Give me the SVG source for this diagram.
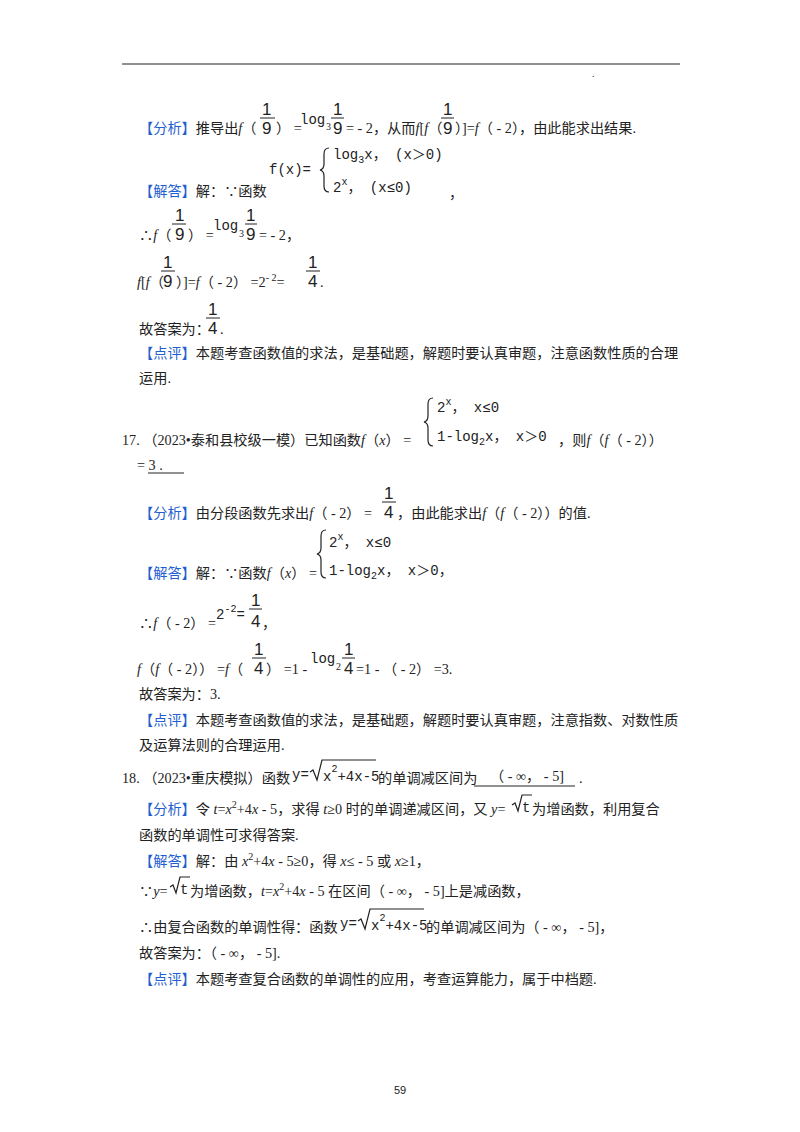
<svg xmlns="http://www.w3.org/2000/svg" width="800" height="1132" viewBox="0 0 800 1132">
<style>
text{font-family:"Liberation Serif","Noto Sans CJK SC",serif;font-size:14.2px;fill:#222}
.b{fill:#1f5fd0}
.i{font-style:italic}
.m{font-family:"Liberation Mono","Noto Sans CJK SC",monospace;font-size:14px}
.s{font-size:10px}
.f{font-size:17px;font-family:"Liberation Sans",sans-serif}
line{stroke:#222;stroke-width:1}
path{fill:none;stroke:#222;stroke-width:1.2}
</style>
<rect width="800" height="1132" fill="#fff"/>
<line x1="122" y1="64" x2="680" y2="64"/>
<text x="592" y="77" class="s">.</text>

<text x="139" y="133"><tspan class="b">【分析】</tspan>推导出<tspan class="i">f</tspan>（</text>
<text x="262" y="115" class="f">1</text><line x1="260" y1="118" x2="275" y2="118"/><text x="262" y="134" class="f">9</text>
<text x="276" y="133">） =</text>
<text x="300" y="124" class="m">log</text><text x="326" y="130" class="s">3</text>
<text x="333" y="115" class="f">1</text><line x1="331" y1="118" x2="344" y2="118"/><text x="333" y="134" class="f">9</text>
<text x="346" y="133">= - 2，从而<tspan class="i">f</tspan>[<tspan class="i">f</tspan>（</text>
<text x="443" y="115" class="f">1</text><line x1="441" y1="118" x2="454" y2="118"/><text x="443" y="134" class="f">9</text>
<text x="455" y="133">）]=<tspan class="i">f</tspan>（ - 2），由此能求出结果.</text>

<text x="269" y="174" class="m">f(x)=</text>
<path d="M329,148 q-5,0 -5,6 v10 q0,5 -4,6 q4,1 4,6 v10 q0,6 5,6"/>
<text x="333" y="159" class="m">log<tspan class="s" dy="4">3</tspan><tspan dy="-4">x， (x＞0)</tspan></text>
<text x="333" y="192" class="m">2<tspan class="s" dy="-7">x</tspan><tspan dy="7">， (x≤0)</tspan></text>
<text x="139" y="196"><tspan class="b">【解答】</tspan>解：∵函数</text>
<text x="449" y="198">，</text>

<text x="139" y="240">∴<tspan class="i">f</tspan>（</text>
<text x="175" y="221" class="f">1</text><line x1="172" y1="224" x2="186" y2="224"/><text x="175" y="240" class="f">9</text>
<text x="188" y="240">） =</text>
<text x="213" y="230" class="m">log</text><text x="239" y="237" class="s">3</text>
<text x="246" y="221" class="f">1</text><line x1="245" y1="224" x2="257" y2="224"/><text x="246" y="240" class="f">9</text>
<text x="259" y="240">= - 2，</text>

<text x="137" y="287"><tspan class="i">f</tspan>[<tspan class="i">f</tspan>（</text>
<text x="163" y="268" class="f">1</text><line x1="161" y1="271" x2="175" y2="271"/><text x="163" y="287" class="f">9</text>
<text x="176" y="287">）]=<tspan class="i">f</tspan>（ - 2） =2<tspan class="s" dy="-6">- 2</tspan><tspan dy="6">=</tspan></text>
<text x="308" y="268" class="f">1</text><line x1="306" y1="271" x2="320" y2="271"/><text x="308" y="287" class="f">4</text>
<text x="320" y="287">.</text>

<text x="139" y="334">故答案为：</text>
<text x="208" y="315" class="f">1</text><line x1="206" y1="318" x2="220" y2="318"/><text x="208" y="334" class="f">4</text>
<text x="220" y="334">.</text>

<text x="139" y="358"><tspan class="b">【点评】</tspan>本题考查函数值的求法，是基础题，解题时要认真审题，注意函数性质的合理</text>
<text x="139" y="383">运用.</text>

<text x="122" y="445">17. （2023•泰和县校级一模）已知函数<tspan class="i">f</tspan>（<tspan class="i">x</tspan>） =</text>
<path d="M433,398 q-5,0 -5,6 v12 q0,5 -4,6 q4,1 4,6 v12 q0,6 5,6"/>
<text x="437" y="412" class="m">2<tspan class="s" dy="-7">x</tspan><tspan dy="7">， x≤0</tspan></text>
<text x="437" y="441" class="m">1-log<tspan class="s" dy="4">2</tspan><tspan dy="-4">x， x＞0</tspan></text>
<text x="558" y="445">，则<tspan class="i">f</tspan>（<tspan class="i">f</tspan>（ - 2））</text>
<text x="137" y="470">= 3 .</text>
<line x1="148" y1="473" x2="184" y2="473"/>

<text x="139" y="518"><tspan class="b">【分析】</tspan>由分段函数先求出<tspan class="i">f</tspan>（ - 2） =</text>
<text x="384" y="499" class="f">1</text><line x1="382" y1="502" x2="396" y2="502"/><text x="384" y="518" class="f">4</text>
<text x="397" y="518">，由此能求出<tspan class="i">f</tspan>（<tspan class="i">f</tspan>（ - 2））的值.</text>

<text x="139" y="578"><tspan class="b">【解答】</tspan>解：∵函数<tspan class="i">f</tspan>（<tspan class="i">x</tspan>） =</text>
<path d="M326,530 q-5,0 -5,6 v12 q0,5 -4,6 q4,1 4,6 v12 q0,6 5,6"/>
<text x="329" y="547" class="m">2<tspan class="s" dy="-7">x</tspan><tspan dy="7">， x≤0</tspan></text>
<text x="329" y="575" class="m">1-log<tspan class="s" dy="4">2</tspan><tspan dy="-4">x， x＞0，</tspan></text>

<text x="139" y="628">∴<tspan class="i">f</tspan>（ - 2） =</text>
<text x="216" y="619" class="m">2<tspan class="s" dy="-7">-2</tspan><tspan dy="7">=</tspan></text>
<text x="251" y="606" class="f">1</text><line x1="249" y1="609" x2="262" y2="609"/><text x="251" y="627" class="f">4</text>
<text x="262" y="628">，</text>

<text x="137" y="674"><tspan class="i">f</tspan>（<tspan class="i">f</tspan>（ - 2）） =<tspan class="i">f</tspan>（</text>
<text x="254" y="655" class="f">1</text><line x1="252" y1="658" x2="266" y2="658"/><text x="254" y="674" class="f">4</text>
<text x="266" y="674">） =1 -</text>
<text x="310" y="663" class="m">log</text><text x="336" y="670" class="s">2</text>
<text x="344" y="655" class="f">1</text><line x1="342" y1="658" x2="355" y2="658"/><text x="344" y="674" class="f">4</text>
<text x="356" y="674">=1 - （ - 2） =3.</text>

<text x="139" y="699">故答案为：3.</text>
<text x="139" y="725"><tspan class="b">【点评】</tspan>本题考查函数值的求法，是基础题，解题时要认真审题，注意指数、对数性质</text>
<text x="139" y="750">及运算法则的合理运用.</text>

<text x="122" y="783">18. （2023•重庆模拟）函数</text>
<text x="292" y="779" class="m">y=</text>
<path d="M310,772 l3,-2 l4,10 l5,-20 h54"/>
<text x="323" y="781" class="m">x<tspan class="s" dy="-9">2</tspan><tspan dy="9">+4x-5</tspan></text>
<text x="378" y="783">的单调减区间为</text>
<text x="490" y="781">（ - ∞， - 5]</text>
<line x1="474" y1="786" x2="575" y2="786"/>
<text x="579" y="783">.</text>

<text x="139" y="814"><tspan class="b">【分析】</tspan>令 <tspan class="i">t</tspan>=<tspan class="i">x</tspan><tspan class="s" dy="-6">2</tspan><tspan dy="6">+4</tspan><tspan class="i">x</tspan> - 5，求得 <tspan class="i">t</tspan>≥0 时的单调递减区间，又 <tspan class="i">y</tspan>=</text>
<path d="M512,805 l3,-2 l3,8 l4,-16 h10"/>
<text x="522" y="812" class="m">t</text>
<text x="532" y="814">为增函数，利用复合</text>
<text x="139" y="840">函数的单调性可求得答案.</text>

<text x="139" y="866"><tspan class="b">【解答】</tspan>解：由 <tspan class="i">x</tspan><tspan class="s" dy="-6">2</tspan><tspan dy="6">+4</tspan><tspan class="i">x</tspan> - 5≥0，得 <tspan class="i">x</tspan>≤ - 5 或 <tspan class="i">x</tspan>≥1，</text>
<text x="139" y="896">∵<tspan class="i">y</tspan>=</text>
<path d="M170,887 l3,-2 l3,8 l4,-16 h10"/>
<text x="180" y="894" class="m">t</text>
<text x="190" y="896">为增函数，<tspan class="i">t</tspan>=<tspan class="i">x</tspan><tspan class="s" dy="-6">2</tspan><tspan dy="6">+4</tspan><tspan class="i">x</tspan> - 5 在区间（ - ∞， - 5]上是减函数，</text>

<text x="139" y="932">∴由复合函数的单调性得：函数</text>
<text x="340" y="928" class="m">y=</text>
<path d="M358,921 l3,-2 l4,10 l5,-20 h54"/>
<text x="371" y="930" class="m">x<tspan class="s" dy="-9">2</tspan><tspan dy="9">+4x-5</tspan></text>
<text x="426" y="932">的单调减区间为（ - ∞， - 5]，</text>
<text x="139" y="958">故答案为：（ - ∞， - 5].</text>
<text x="139" y="984"><tspan class="b">【点评】</tspan>本题考查复合函数的单调性的应用，考查运算能力，属于中档题.</text>

<text x="400" y="1094" text-anchor="middle" style="font-family:'Liberation Sans',sans-serif;font-size:11px">59</text>
</svg>
